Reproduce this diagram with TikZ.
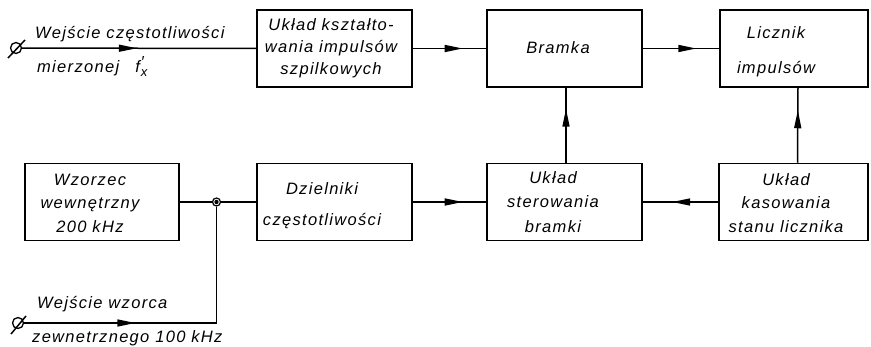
\documentclass[tikz,border=0pt]{standalone}
\usepackage{fontspec}
\setmainfont{Liberation Sans}[LetterSpace=8]
\usetikzlibrary{arrows.meta,decorations.markings,calc}

\tikzset{
  blk/.style={draw, line width=1.5pt, inner sep=0pt, minimum height=77pt},
  lbl/.style={font=\itshape\fontsize{16.5}{#1}\selectfont, align=center, inner sep=0pt},
  lbl/.default=23.5,
  inlbl/.style={font=\itshape\fontsize{16.5}{20}\selectfont, inner sep=0pt, anchor=base west},
  wire/.style={line width=1.5pt},
  arrowat/.style={postaction={decorate},
    decoration={markings, mark=at position #1 with {\arrow{Triangle[length=18pt,width=7pt]}}}},
  term/.style={circle, draw, line width=1.3pt, minimum size=11pt, inner sep=0pt},
  junct/.style={circle, draw, line width=1.2pt, minimum size=8pt, inner sep=0pt},
}

\begin{document}
\begin{tikzpicture}[x=1pt, y=-1pt]
\useasboundingbox (0,0) rectangle (871,347);

% functional blocks
\node[blk, minimum width=155pt] (shaper)  at (334.5,48.5) {};
\node[blk, minimum width=155pt] (gate)    at (564.5,48.5) {};
\node[blk, minimum width=148pt] (counter) at (794,48.5) {};
\node[blk, minimum width=154pt] (ref)     at (102,202) {};
\node[blk, minimum width=155pt] (div)     at (334.5,202) {};
\node[blk, minimum width=155pt] (ctrl)    at (564.5,202) {};
\node[blk, minimum width=149pt] (reset)   at (793.5,202) {};

% block captions
\node[lbl=22]   (shaperT)  at (331,48)    {Układ kształto-\\wania impulsów\\szpilkowych};
\node[lbl]      (gateT)    at (558,48)    {Bramka};
\node[lbl=35]   (counterT) at (776,52)    {Licznik\\impulsów};
\node[lbl]      (refT)     at (90,203)    {Wzorzec\\wewnętrzny\\200 kHz};
\node[lbl=31]   (divT)     at (322,206)   {Dzielniki\\częstotliwości};
\node[lbl=24.5] (ctrlT)    at (553,202)   {Układ\\sterowania\\bramki};
\node[lbl]      (resetT)   at (786,203)   {Układ\\kasowania\\stanu licznika};

% input terminals and junction
\node[term]  (in1) at (16,48) {};
\node[term]  (in2) at (18,323) {};
\node[junct] (jn)  at (216.5,202) {};
\fill (jn) circle (2.2pt);
\draw[wire] ([shift={(-8,10)}]in1.center) -- ([shift={(9,-8)}]in1.center);
\draw[wire] ([shift={(-7,11)}]in2.center) -- ([shift={(8,-7)}]in2.center);
\coordinate (corner) at (216.5,323);

% input captions
\node[inlbl] (in1a) at (35,39)  {Wejście częstotliwości};
\node[inlbl] (in1b) at (37,73)  {mierzonej\hspace{16pt}f\kern1pt\rlap{\raisebox{5pt}{\fontsize{16}{16}\selectfont\char"2032}}\raisebox{-3.5pt}{\fontsize{13}{13}\selectfont x}};
\node[inlbl] (in2a) at (37,309) {Wejście wzorca};
\node[inlbl] (in2b) at (32,343) {zewnetrznego 100 kHz};

% signal paths
\draw[wire, arrowat=0.49] (in1) -- (shaper.west);
\draw[wire, arrowat=0.68] (shaper.east) -- (gate.west);
\draw[wire, arrowat=0.70] (gate.east) -- (counter.west);
\draw[wire] (ref.east) -- (jn.west);
\draw[wire] (jn.east) -- (div.west);
\draw[wire, arrowat=0.36] (in2) -- (corner) -- (jn.south);
\draw[wire, arrowat=0.68] (div.east) -- (ctrl.west);
\draw[wire, arrowat=0.61] (reset.west) -- (ctrl.east);
\draw[wire, arrowat=0.72] ([xshift=1.5pt]ctrl.north) -- ([xshift=1.5pt]gate.south);
\draw[wire, arrowat=0.70] ([xshift=4pt]reset.north) -- ([xshift=4pt]counter.south);
\end{tikzpicture}
\end{document}
